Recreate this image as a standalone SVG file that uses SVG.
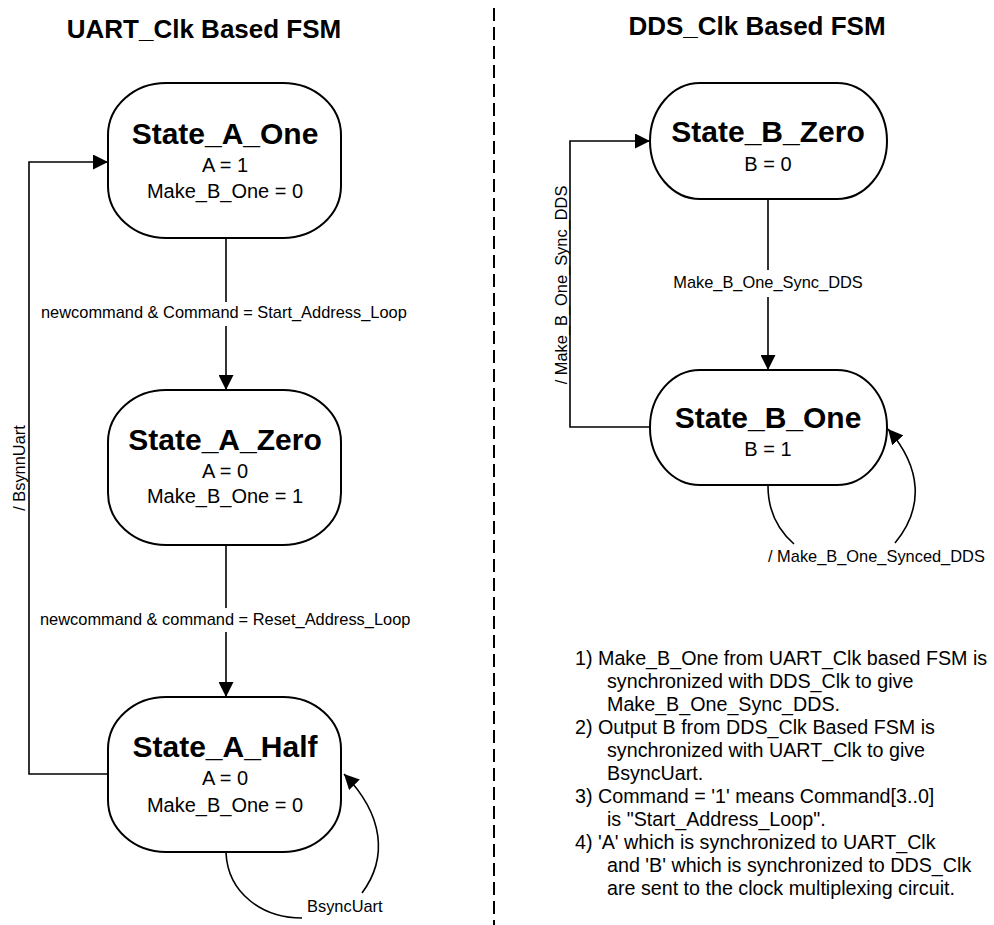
<svg xmlns="http://www.w3.org/2000/svg" width="994" height="925" viewBox="0 0 994 925">
<style>
text{font-family:"Liberation Sans",Arial,sans-serif;fill:#000}
.title{font-size:26px;font-weight:bold;text-anchor:middle}
.sname{font-size:30px;font-weight:bold;text-anchor:middle}
.sval{font-size:20px;text-anchor:middle}
.lbl{font-size:16.4px}
.note{font-size:19.7px}
.node{fill:#fff;stroke:#000;stroke-width:2}
.wire{fill:none;stroke:#000;stroke-width:1.6}
.div{fill:none;stroke:#000;stroke-width:2;stroke-dasharray:13 6}
</style>
<defs>
<marker id="arr" markerUnits="userSpaceOnUse" markerWidth="16" markerHeight="15" refX="15" refY="7.5" orient="auto">
<path d="M0,0 L15,7.5 L0,15 z" fill="#000"/>
</marker>
</defs>
<rect width="994" height="925" fill="#fff"/>
<line class="div" x1="494" y1="8" x2="494" y2="925"/>
<text class="title" x="204" y="38">UART_Clk Based FSM</text>
<text class="title" x="757" y="35">DDS_Clk Based FSM</text>

<g id="connectors">
<line class="wire" x1="226" y1="238" x2="226" y2="302"/>
<line class="wire" x1="226" y1="326" x2="226" y2="390" marker-end="url(#arr)"/>
<text class="lbl" x="41" y="318">newcommand &amp; Command = Start_Address_Loop</text>
<line class="wire" x1="226" y1="545" x2="226" y2="608"/>
<line class="wire" x1="226" y1="632" x2="226" y2="697" marker-end="url(#arr)"/>
<text class="lbl" x="40" y="625">newcommand &amp; command = Reset_Address_Loop</text>
<polyline class="wire" points="108,774 29,774 29,162 108,162" marker-end="url(#arr)"/>
<text class="lbl" transform="translate(25,468) rotate(-90)" text-anchor="middle">/ BsynnUart</text>
<path class="wire" d="M226,853 C228,893 262,918 302,918"/>
<path class="wire" d="M362,893 C388,858 384,815 344,774" marker-end="url(#arr)"/>
<text class="lbl" x="307" y="912">BsyncUart</text>

<line class="wire" x1="768" y1="199" x2="768" y2="270"/>
<line class="wire" x1="768" y1="297" x2="768" y2="370" marker-end="url(#arr)"/>
<text class="lbl" x="768" y="288" text-anchor="middle">Make_B_One_Sync_DDS</text>
<polyline class="wire" points="650,427 570,427 570,141 650,141" marker-end="url(#arr)"/>
<text class="lbl" transform="translate(567,285) rotate(-90)" text-anchor="middle">/ Make_B_One_Sync_DDS</text>
<path class="wire" d="M768,486 C768,510 778,530 794,544"/>
<path class="wire" d="M895,543 C924,508 922,468 888,429" marker-end="url(#arr)"/>
<text class="lbl" x="768" y="562">/ Make_B_One_Synced_DDS</text>
</g>

<g id="State_A_One">
<rect class="node" x="108" y="83" width="233" height="155" rx="58" ry="52"/>
<text class="sname" x="225" y="144">State_A_One</text>
<text class="sval" x="225" y="172">A = 1</text>
<text class="sval" x="225" y="198">Make_B_One = 0</text>
</g>
<g id="State_A_Zero">
<rect class="node" x="108" y="390" width="233" height="155" rx="58" ry="52"/>
<text class="sname" x="225" y="450">State_A_Zero</text>
<text class="sval" x="225" y="478">A = 0</text>
<text class="sval" x="225" y="503">Make_B_One = 1</text>
</g>
<g id="State_A_Half">
<rect class="node" x="108" y="697" width="233" height="155" rx="58" ry="52"/>
<text class="sname" x="225" y="757">State_A_Half</text>
<text class="sval" x="225" y="785">A = 0</text>
<text class="sval" x="225" y="812">Make_B_One = 0</text>
</g>
<g id="State_B_Zero">
<rect class="node" x="650" y="83" width="237" height="116" rx="50" ry="58"/>
<text class="sname" x="768" y="142">State_B_Zero</text>
<text class="sval" x="768" y="171">B = 0</text>
</g>
<g id="State_B_One">
<rect class="node" x="650" y="370" width="237" height="115" rx="50" ry="57"/>
<text class="sname" x="768" y="428">State_B_One</text>
<text class="sval" x="768" y="456">B = 1</text>
</g>

<g id="notes">
<text class="note" x="575" y="665">1) Make_B_One from UART_Clk based FSM is</text>
<text class="note" x="607" y="688">synchronized with DDS_Clk to give</text>
<text class="note" x="607" y="711">Make_B_One_Sync_DDS.</text>
<text class="note" x="575" y="734">2) Output B from DDS_Clk Based FSM is</text>
<text class="note" x="607" y="757">synchronized with UART_Clk to give</text>
<text class="note" x="607" y="780">BsyncUart.</text>
<text class="note" x="575" y="803">3) Command = '1' means Command[3..0]</text>
<text class="note" x="607" y="826">is "Start_Address_Loop".</text>
<text class="note" x="575" y="849">4) 'A' which is synchronized to UART_Clk</text>
<text class="note" x="607" y="872">and 'B' which is synchronized to DDS_Clk</text>
<text class="note" x="607" y="895">are sent to the clock multiplexing circuit.</text>
</g>
</svg>
